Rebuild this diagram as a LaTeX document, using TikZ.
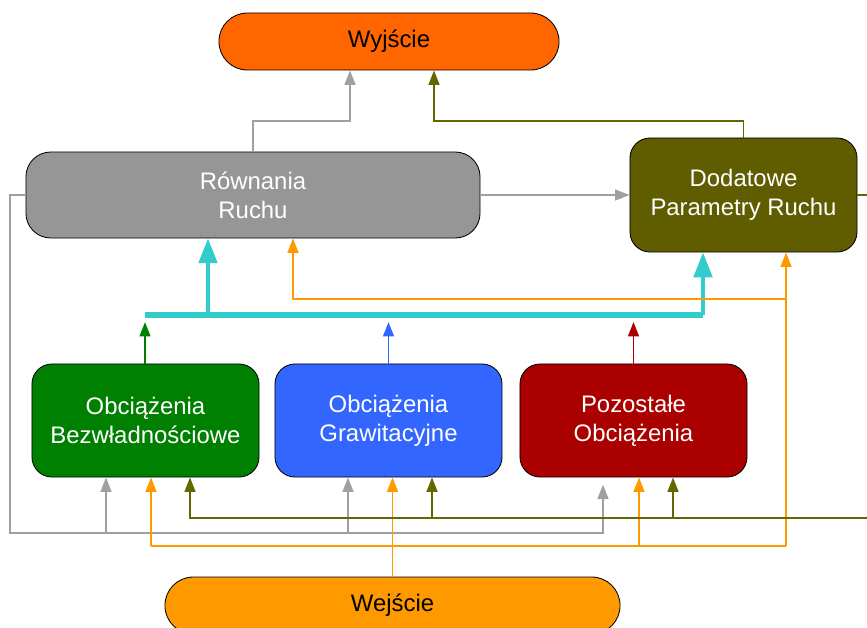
\documentclass[tikz,border=0pt]{standalone}
\usepackage{fontspec}
\setmainfont{Liberation Sans}
\usetikzlibrary{arrows.meta}

\begin{document}
\begin{tikzpicture}[x=0.025cm, y=-0.025cm,
	box/.style={draw=black, line width=0.6pt, align=center, inner sep=0pt,
		font=\fontsize{17}{20.5}\selectfont, text=white},
	pfeil/.style={line width=1.4pt, -{Triangle[length=0.36cm, width=0.27cm]}},
	linie/.style={line width=1.4pt},
	bus/.style={line width=4.3pt, color=bcyan},
	buspfeil/.style={line width=2.8pt, color=bcyan, -{Triangle[length=0.62cm, width=0.46cm]}}]

	%Farben
	\definecolor{borange}{RGB}{255,102,0}
	\definecolor{bgrau}{RGB}{150,150,150}
	\definecolor{lgrau}{RGB}{160,160,160}
	\definecolor{boliv}{RGB}{96,92,0}
	\definecolor{loliv}{RGB}{102,102,0}
	\definecolor{bgruen}{RGB}{0,128,0}
	\definecolor{bblau}{RGB}{51,102,255}
	\definecolor{brot}{RGB}{170,0,0}
	\definecolor{bgelb}{RGB}{255,153,0}
	\definecolor{bcyan}{RGB}{51,204,204}

	\clip (0,0) rectangle (867,627);

	%Knoten
	\node[box, fill=borange, text=black, minimum width=8.5cm, minimum height=1.425cm,
		rounded corners=0.71cm] (wy) at (389,41.5) {Wyjście};
	\node[box, fill=bgrau, minimum width=11.35cm, minimum height=2.15cm,
		rounded corners=0.62cm] (rr) at (253,195) {Równania\\Ruchu};
	\node[box, fill=boliv, minimum width=5.675cm, minimum height=2.85cm,
		rounded corners=0.5cm] (dp) at (743.5,195) {Dodatowe\\Parametry Ruchu};
	\node[box, fill=bgruen, minimum width=5.675cm, minimum height=2.825cm,
		rounded corners=0.5cm] (bw) at (145.5,420.5) {Obciążenia\\Bezwładnościowe};
	\node[box, fill=bblau, minimum width=5.675cm, minimum height=2.825cm,
		rounded corners=0.5cm] (gw) at (388.5,420.5) {Obciążenia\\Grawitacyjne};
	\node[box, fill=brot, minimum width=5.675cm, minimum height=2.825cm,
		rounded corners=0.5cm] (po) at (633.5,420.5) {Pozostałe\\Obciążenia};
	\node[box, fill=bgelb, text=black, minimum width=11.375cm, minimum height=1.425cm,
		rounded corners=0.71cm] (we) at (392.5,605.5) {Wejście};

	%Hilfspunkte
	\coordinate (k1) at (350,121);
	\coordinate (k2) at (434,121);
	\coordinate (b1) at (145,315);
	\coordinate (b2) at (703,315);
	\coordinate (b3) at (208,315);
	\coordinate (bb) at (0,322);
	\coordinate (g0) at (10,533);
	\coordinate (g1) at (106,533);
	\coordinate (g2) at (348,533);
	\coordinate (g3) at (603,533);
	\coordinate (o1) at (151,546);
	\coordinate (o2) at (786,546);
	\coordinate (o3) at (639,546);
	\coordinate (o5) at (786,299);
	\coordinate (o6) at (293,299);
	\coordinate (q0) at (877,518);
	\coordinate (q1) at (190,518);
	\coordinate (q2) at (432,518);
	\coordinate (q3) at (673,518);

	%oben
	\draw[pfeil, lgrau] (rr.north) |- (k1) -- (k1 |- wy.south);
	\draw[pfeil, loliv] (dp.north) |- (k2) -- (k2 |- wy.south);
	\draw[pfeil, lgrau] (rr.east) -- (dp.west);

	%Bus
	\draw[bus] (b1) -- (b2);
	\draw[buspfeil] (b2) -- (b2 |- dp.south);
	\draw[buspfeil] (b3) -- (b3 |- rr.south);
	\draw[pfeil, bgruen] (bw.north -| b1) -- (b1 |- bb);
	\draw[pfeil, bblau] (gw.north) -- (gw.north |- bb);
	\draw[pfeil, brot] (po.north) -- (po.north |- bb);

	%unten grau
	\draw[pfeil, lgrau, shorten >=0.18cm] (rr.west) -| (g0) -| (g3 |- po.south);
	\draw[pfeil, lgrau] (g1) -- (g1 |- bw.south);
	\draw[pfeil, lgrau] (g2) -- (g2 |- gw.south);

	%unten orange
	\draw[linie, bgelb] (o1) -- (o2);
	\draw[pfeil, bgelb] (o1) -- (o1 |- bw.south);
	\draw[pfeil, bgelb] (o3) -- (o3 |- po.south);
	\draw[pfeil, bgelb] (o2) -- (o2 |- dp.south);
	\draw[pfeil, bgelb] (o5) -- (o6) -- (o6 |- rr.south);
	\draw[pfeil, bgelb] (we.north) -- (we.north |- gw.south);

	%unten oliv
	\draw[pfeil, loliv] (dp.east) -| (q0) -- (q1) -- (q1 |- bw.south);
	\draw[pfeil, loliv] (q2) -- (q2 |- gw.south);
	\draw[pfeil, loliv] (q3) -- (q3 |- po.south);

\end{tikzpicture}
\end{document}
